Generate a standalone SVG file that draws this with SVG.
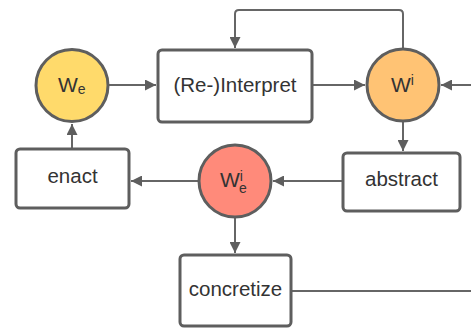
<svg xmlns="http://www.w3.org/2000/svg" width="471" height="328" viewBox="0 0 471 328">
<defs>
<marker id="ah" viewBox="0 0 10 10" refX="10" refY="5" markerWidth="11" markerHeight="11" markerUnits="userSpaceOnUse" orient="auto">
<path d="M0,0 L10,5 L0,10 z" fill="#5e5e5e"/>
</marker>
<style>
.box{fill:#fff;stroke:#5e5e5e;stroke-width:3}
.circ{stroke:#5e5e5e;stroke-width:3}
.lbl{font-family:"Liberation Sans",Arial,sans-serif;font-size:20.5px;fill:#333}
.w{font-family:"Liberation Sans",Arial,sans-serif;font-size:21px;fill:#333}
.s{font-size:14px}
.conn{fill:none;stroke:#666;stroke-width:2}
</style>
</defs>
<rect width="471" height="328" fill="#fff"/>
<g id="connectors">
<path class="conn" d="M108,85 H156" marker-end="url(#ah)"/>
<path class="conn" d="M312,85 H365" marker-end="url(#ah)"/>
<path class="conn" d="M471,85 H441" marker-end="url(#ah)"/>
<path class="conn" d="M403,49 V14 Q403,10 399,10 H239 Q235,10 235,14 V48" marker-end="url(#ah)"/>
<path class="conn" d="M403,121 V151" marker-end="url(#ah)"/>
<path class="conn" d="M343,181 H273" marker-end="url(#ah)"/>
<path class="conn" d="M199,181 H131" marker-end="url(#ah)"/>
<path class="conn" d="M72,149 V124" marker-end="url(#ah)"/>
<path class="conn" d="M235,217 V253" marker-end="url(#ah)"/>
<path class="conn" d="M291,291 H471"/>
</g>
<g id="We">
<circle class="circ" cx="72" cy="85.5" r="36" fill="#ffda6b"/>
<text class="w" x="58" y="92">W<tspan class="s" dy="2">e</tspan></text>
</g>
<g id="interpret">
<rect class="box" x="158" y="50" width="154" height="72" rx="4"/>
<text class="lbl" x="235" y="92" text-anchor="middle">(Re-)Interpret</text>
</g>
<g id="Wi">
<circle class="circ" cx="403" cy="85" r="36" fill="#ffc374"/>
<text class="w" x="391" y="92">W<tspan class="s" dy="-7">i</tspan></text>
</g>
<g id="abstract">
<rect class="box" x="343" y="153" width="117" height="58" rx="4"/>
<text class="lbl" x="401.5" y="186" text-anchor="middle">abstract</text>
</g>
<g id="Wie">
<circle class="circ" cx="235" cy="181" r="36" fill="#ff8a7a"/>
<text class="w" x="220" y="187">W<tspan class="s" dy="-6">i</tspan><tspan class="s" dx="-4" dy="12">e</tspan></text>
</g>
<g id="enact">
<rect class="box" x="16" y="149" width="113" height="59" rx="4"/>
<text class="lbl" x="72.5" y="183" text-anchor="middle">enact</text>
</g>
<g id="concretize">
<rect class="box" x="180" y="255" width="111" height="71" rx="4"/>
<text class="lbl" x="235.5" y="296" text-anchor="middle">concretize</text>
</g>
</svg>
